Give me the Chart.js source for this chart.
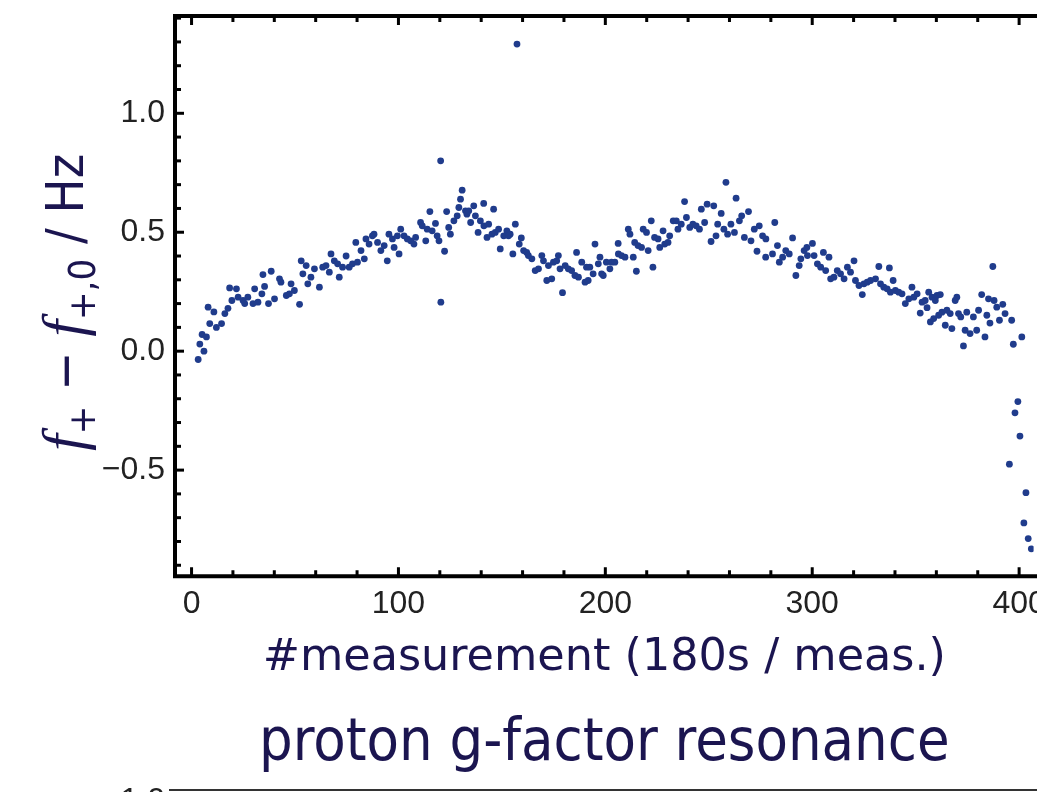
<!DOCTYPE html>
<html>
<head>
<meta charset="utf-8">
<script src="https://cdn.jsdelivr.net/npm/chart.js@4/dist/chart.umd.min.js"></script>
<style>
  html, body { margin: 0; padding: 0; background: #fff; overflow: hidden; }
  #chart-resonance { display: block; }
</style>
</head>
<body>
<canvas id="chart-resonance" width="1037" height="792"></canvas>
<script>

var measIndex = [
	3.2, 4.0, 5.1, 6.0, 7.2, 8.0, 8.8, 10.8, 12.0, 14.5, 16.1, 17.6, 18.4, 19.5, 21.7, 22.5, 24.9, 25.7, 27.2, 29.7,
	30.5, 32.1, 34.0, 34.5, 35.3, 37.2, 38.5, 40.1, 42.5, 43.2, 45.8, 47.3, 48.1, 49.7, 52.2, 53.0, 53.8, 55.4, 56.2, 57.7,
	59.4, 61.8, 63.4, 65.0, 66.6, 67.4, 69.0, 70.6, 71.4, 73.0, 74.7, 76.2, 77.8, 79.4, 80.2, 81.9, 83.5, 84.3, 85.8, 87.4,
	88.2, 89.9, 91.5, 93.1, 94.6, 95.4, 97.1, 97.9, 99.5, 100.3, 101.1, 102.7, 104.3, 105.9, 107.5, 108.3, 110.7, 111.5, 113.2, 113.9,
	115.2, 116.3, 117.9, 118.7, 119.6, 120.4, 120.5, 122.3, 123.3, 124.3, 125.1, 126.8, 128.4, 129.2, 130.0, 130.8, 132.4, 133.1, 134.0, 134.9,
	136.4, 137.2, 138.5, 139.6, 141.2, 141.3, 142.8, 143.6, 145.2, 146.0, 146.8, 148.4, 149.2, 150.9, 152.4, 153.2, 154.0, 155.3, 156.5, 157.3,
	158.4, 159.4, 160.5, 162.0, 162.8, 164.5, 166.1, 167.7, 169.3, 170.1, 171.7, 172.5, 174.1, 174.9, 176.5, 177.3, 178.1, 179.3, 180.6, 182.1,
	183.7, 185.3, 186.1, 187.0, 188.6, 190.2, 190.9, 191.7, 192.5, 194.1, 195.0, 196.6, 197.4, 198.2, 199.0, 200.5, 202.2, 203.0, 204.6, 206.2,
	206.3, 207.8, 209.5, 211.1, 211.9, 213.5, 214.2, 215.0, 215.8, 217.5, 218.3, 219.9, 220.7, 222.2, 223.0, 223.8, 225.5, 226.3, 227.9, 228.7,
	230.3, 231.1, 232.8, 234.3, 235.1, 236.7, 238.3, 239.2, 240.8, 242.3, 243.9, 245.5, 246.4, 248.0, 249.2, 251.1, 252.4, 253.5, 254.3, 256.0,
	257.3, 258.3, 259.1, 260.7, 262.4, 263.2, 264.8, 265.9, 267.2, 269.2, 270.4, 272.0, 273.3, 274.4, 276.0, 277.5, 277.6, 280.8, 281.9, 283.2,
	284.1, 285.7, 287.2, 288.9, 290.5, 292.1, 293.7, 294.5, 296.1, 297.4, 297.7, 300.1, 300.9, 302.5, 304.1, 305.4, 306.5, 308.1, 308.9, 310.5,
	312.1, 313.7, 315.4, 317.0, 318.5, 320.2, 320.9, 322.6, 324.2, 325.0, 326.6, 328.2, 330.6, 332.2, 333.0, 334.6, 336.2, 337.3, 337.8, 339.1,
	340.2, 341.8, 343.4, 345.0, 346.7, 348.2, 349.1, 350.7, 352.2, 353.1, 354.6, 355.5, 356.3, 357.1, 357.9, 358.7, 359.5, 360.3, 361.1, 361.9,
	362.7, 364.3, 365.1, 366.7, 367.5, 369.1, 369.9, 370.7, 371.8, 373.1, 373.9, 374.7, 376.3, 377.9, 379.5, 380.4, 381.9, 383.5, 384.4, 385.2,
	385.9, 387.3, 387.9, 389.2, 390.5, 392.1, 393.2, 396.4, 397.2, 401.3,
	395.3, 398.0, 399.4, 400.4, 402.3, 403.3, 404.4, 405.9
];

var freqShift = [
	-0.035, 0.03, 0.07, 0.0, 0.06, 0.185, 0.116, 0.165, 0.10, 0.116, 0.158, 0.18, 0.266, 0.213, 0.262, 0.227, 0.213, 0.20, 0.227, 0.20,
	0.262, 0.206, 0.241, 0.322, 0.272, 0.20, 0.336, 0.22, 0.304, 0.29, 0.234, 0.241, 0.283, 0.255, 0.197, 0.38, 0.325, 0.36, 0.283, 0.311,
	0.346, 0.269, 0.353, 0.36, 0.332, 0.409, 0.38, 0.367, 0.311, 0.353, 0.40, 0.353, 0.367, 0.457, 0.374, 0.423, 0.388, 0.472, 0.45, 0.485,
	0.492, 0.457, 0.423, 0.444, 0.38, 0.492, 0.472, 0.436, 0.485, 0.409, 0.513, 0.485, 0.472, 0.464, 0.45, 0.478, 0.541, 0.527, 0.464, 0.513,
	0.587, 0.506, 0.537, 0.485, 0.464, 0.80, 0.206, 0.42, 0.587, 0.52, 0.492, 0.548, 0.569, 0.604, 0.639, 0.677, 0.59, 0.576, 0.59, 0.541,
	0.611, 0.569, 0.499, 0.548, 0.621, 0.527, 0.478, 0.534, 0.492, 0.597, 0.499, 0.513, 0.43, 0.485, 0.506, 0.485, 0.492, 0.409, 0.534, 1.291,
	0.45, 0.476, 0.423, 0.415, 0.402, 0.388, 0.339, 0.346, 0.402, 0.38, 0.297, 0.36, 0.304, 0.374, 0.38, 0.402, 0.346, 0.246, 0.36, 0.346,
	0.339, 0.318, 0.415, 0.311, 0.374, 0.29, 0.353, 0.297, 0.353, 0.325, 0.45, 0.367, 0.395, 0.325, 0.318, 0.374, 0.346, 0.374, 0.374, 0.453,
	0.409, 0.402, 0.395, 0.513, 0.492, 0.395, 0.457, 0.336, 0.444, 0.436, 0.513, 0.499, 0.423, 0.548, 0.353, 0.478, 0.472, 0.436, 0.506, 0.45,
	0.457, 0.485, 0.548, 0.548, 0.513, 0.534, 0.629, 0.562, 0.52, 0.534, 0.527, 0.513, 0.597, 0.541, 0.618, 0.461, 0.611, 0.485, 0.534, 0.579,
	0.513, 0.71, 0.492, 0.534, 0.499, 0.643, 0.548, 0.569, 0.478, 0.587, 0.464, 0.513, 0.42, 0.527, 0.485, 0.395, 0.472, 0.409, 0.541, 0.444,
	0.374, 0.395, 0.423, 0.409, 0.476, 0.318, 0.36, 0.388, 0.423, 0.436, 0.402, 0.453, 0.402, 0.367, 0.353, 0.415, 0.339, 0.395, 0.304, 0.311,
	0.339, 0.325, 0.304, 0.353, 0.332, 0.38, 0.297, 0.276, 0.238, 0.283, 0.29, 0.297, 0.304, 0.356, 0.283, 0.269, 0.262, 0.35, 0.248, 0.297,
	0.255, 0.248, 0.241, 0.20, 0.22, 0.269, 0.227, 0.241, 0.16, 0.206, 0.213, 0.183, 0.248, 0.123, 0.227, 0.137, 0.213, 0.234, 0.151, 0.238,
	0.164, 0.109, 0.172, 0.158, 0.095, 0.213, 0.227, 0.158, 0.144, 0.022, 0.088, 0.164, 0.074, 0.144, 0.088, 0.172, 0.238, 0.06, 0.151, 0.22,
	0.118, 0.356, 0.213, 0.185, 0.13, 0.197, 0.158, 0.13, 0.029, 0.06,
	-0.475, -0.259, -0.212, -0.357, -0.722, -0.595, -0.788, -0.831
];

var xTickValues = [ 0, 100, 200, 300, 400 ];
var yTickValues = [ -0.5, 0.0, 0.5, 1.0 ];

var xTitle = "#measurement (180s / meas.)";
var chartTitle = "proton g-factor resonance";

/* Styles */

var navy = '#1b1550';
var dotColor = 'rgb(32, 60, 140)';
var sansCond = '"DejaVu Sans Condensed", "DejaVu Sans", sans-serif';

/* Frame with inward ticks, like the Mathematica plot */

var framePlugin = {
	id: 'frame',
	afterDatasetsDraw: function( chart ) {
		var ctx = chart.ctx, a = chart.chartArea;
		var xs = chart.scales.x, ys = chart.scales.y;
		ctx.save();
		ctx.strokeStyle = '#000';
		ctx.lineCap = 'butt';

		// ticks
		ctx.lineWidth = 3;
		var v, px, len;
		for ( v = 0; v <= 400; v += 20 ) {
			px = xs.getPixelForValue( v );
			len = ( v % 100 === 0 ) ? 9 : 6;
			ctx.beginPath();
			ctx.moveTo( px, a.bottom ); ctx.lineTo( px, a.bottom - len );
			ctx.moveTo( px, a.top ); ctx.lineTo( px, a.top + len );
			ctx.stroke();
		}
		for ( v = -9; v <= 14; v++ ) {
			px = ys.getPixelForValue( v / 10 );
			len = ( v % 5 === 0 ) ? 9 : 6;
			ctx.beginPath();
			ctx.moveTo( a.left, px ); ctx.lineTo( a.left + len, px );
			ctx.stroke();
		}

		// frame (right side is outside the picture)
		ctx.lineWidth = 4;
		ctx.beginPath();
		ctx.moveTo( chart.width + 5, a.top ); ctx.lineTo( a.left, a.top );
		ctx.lineTo( a.left, a.bottom ); ctx.lineTo( chart.width + 5, a.bottom );
		ctx.stroke();

		// top of the next plot on the slide
		ctx.lineWidth = 2;
		ctx.strokeStyle = '#333';
		ctx.beginPath();
		ctx.moveTo( 169, 790 ); ctx.lineTo( chart.width, 790 );
		ctx.stroke();
		ctx.fillStyle = '#222';
		ctx.font = '32px "Liberation Sans", Arial, sans-serif';
		ctx.textAlign = 'right';
		ctx.textBaseline = 'alphabetic';
		ctx.fillText( '1.0', 165, 810 );
		ctx.restore();
	}
};

/* y axis title with italic f and subscripts */

var yTitlePlugin = {
	id: 'ytitle',
	afterDraw: function( chart ) {
		var ctx = chart.ctx;
		var parts = [
			{ t: 'f',     f: 'italic 60px "Liberation Serif", serif', dy: 0 },
			{ t: '+',     f: '38px ' + sansCond, dy: 12 },
			{ t: ' \u2212 ', f: '52px ' + sansCond, dy: 0 },
			{ t: 'f',     f: 'italic 60px "Liberation Serif", serif', dy: 0 },
			{ t: '+,0',   f: '38px ' + sansCond, dy: 12 },
			{ t: ' / Hz', f: '52px ' + sansCond, dy: 0 }
		];
		ctx.save();
		ctx.translate( 83, 451 );
		ctx.rotate( -Math.PI / 2 );
		ctx.fillStyle = navy;
		ctx.textBaseline = 'alphabetic';
		ctx.textAlign = 'left';
		var pos = 0;
		parts.forEach(function( p ) {
			ctx.font = p.f;
			ctx.fillText( p.t, pos, p.dy );
			pos += ctx.measureText( p.t ).width;
		});
		ctx.restore();
	}
};

var points = measIndex.map(function( x, i ) {
	return { x: x, y: freqShift[i] };
});

var ctxres = document.getElementById("chart-resonance").getContext('2d');
var myChart = new Chart(ctxres, {
	type: 'scatter',
	data: {
		datasets: [{
			data: points,
			backgroundColor: dotColor,
			borderWidth: 0,
			pointRadius: 3.4,
			pointHoverRadius: 3.4
		}]
	},
	options: {
		responsive: false,
		animation: false,
		events: [],
		layout: { padding: { top: 16, left: 0, right: 0, bottom: 0 } },
		plugins: {
			legend: { display: false },
			tooltip: { enabled: false },
			title: {
				display: true,
				position: 'bottom',
				fullSize: false,
				text: chartTitle,
				color: navy,
				font: { family: sansCond, size: 59, weight: 'normal' },
				padding: { top: 0, bottom: 12 }
			}
		},
		scales: {
			x: {
				type: 'linear',
				min: -8.0,
				max: 407.0,
				grid: { display: false, drawTicks: false },
				border: { display: false },
				afterBuildTicks: function( scale ) {
					scale.ticks = xTickValues.map(function( v ) { return { value: v }; });
				},
				afterFit: function( scale ) {
					scale.height = 133;
					scale.paddingLeft = 0;
					scale.paddingRight = 0;
				},
				ticks: {
					color: '#222',
					padding: 9,
					maxRotation: 0,
					autoSkip: false,
					font: { family: '"Liberation Sans", Arial, sans-serif', size: 32 },
					callback: function( v ) { return String( v ); }
				},
				title: {
					display: true,
					text: xTitle,
					color: navy,
					font: { family: '"DejaVu Sans", sans-serif', size: 44.5 },
					padding: { top: 0, bottom: 24 }
				}
			},
			y: {
				type: 'linear',
				min: -0.946,
				max: 1.409,
				grid: { display: false, drawTicks: false },
				border: { display: false },
				afterBuildTicks: function( scale ) {
					scale.ticks = yTickValues.map(function( v ) { return { value: v }; });
				},
				afterFit: function( scale ) {
					scale.width = 175;
					scale.paddingTop = 0;
					scale.paddingBottom = 0;
				},
				ticks: {
					color: '#222',
					padding: 10,
					autoSkip: false,
					font: { family: '"Liberation Sans", Arial, sans-serif', size: 32 },
					callback: function( v ) {
						return ( v < 0 ? '\u2212' : '' ) + Math.abs( v ).toFixed( 1 );
					}
				}
			}
		}
	},
	plugins: [ framePlugin, yTitlePlugin ]
});
</script>
</body>
</html>
